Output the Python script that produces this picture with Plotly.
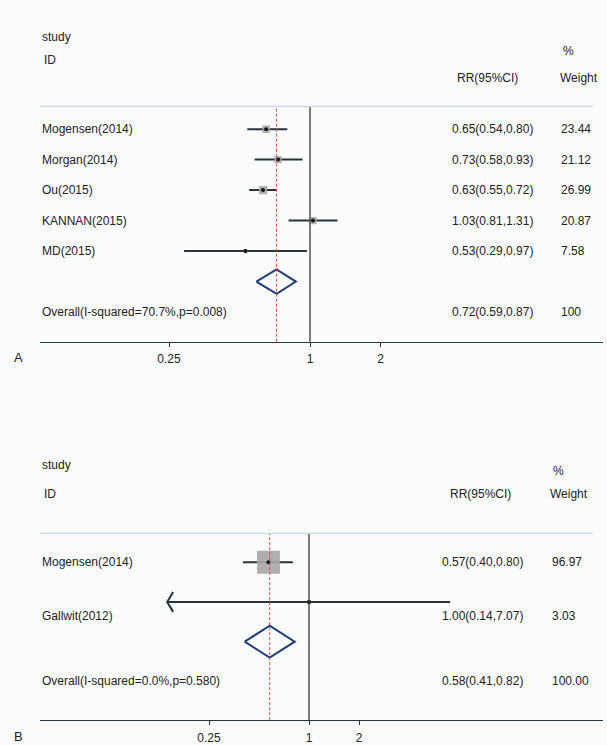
import math
import plotly.graph_objects as go

W, H = 607, 745

# ---- Panel A ----
a_studies = ["Mogensen(2014)", "Morgan(2014)", "Ou(2015)", "KANNAN(2015)", "MD(2015)"]
a_rr = [0.65, 0.73, 0.63, 1.03, 0.53]
a_lo = [0.54, 0.58, 0.55, 0.81, 0.29]
a_hi = [0.80, 0.93, 0.72, 1.31, 0.97]
a_weight = [23.44, 21.12, 26.99, 20.87, 7.58]
a_overall = [0.72, 0.59, 0.87]
a_overall_label = "Overall(I-squared=70.7%,p=0.008)"
a_overall_weight = "100"

# ---- Panel B ----
b_studies = ["Mogensen(2014)", "Gallwit(2012)"]
b_rr = [0.57, 1.00]
b_lo = [0.40, 0.14]
b_hi = [0.80, 7.07]
b_weight = [96.97, 3.03]
b_overall = [0.58, 0.41, 0.82]
b_overall_label = "Overall(I-squared=0.0%,p=0.580)"
b_overall_weight = "100.00"

tick_vals = [0.25, 1, 2]
tick_text = ["0.25", "1", "2"]

FONT = "Liberation Sans, Arial, Helvetica, sans-serif"
TXT = "#222222"
CI_COL = "#28343c"
DIAMOND_COL = "#1e3c78"
NULL_COL = "#3a3a3a"
DASH_COL = "#d44a44"
RULE_COL = "#c9d6e0"
AXIS_COL = "#2a3640"
BG = "#fbfcfd"


def py(px):
    """Pixel row (from top) to paper fraction."""
    return 1 - px / H


def pxx(px):
    return px / W


fig = go.Figure()
annotations = []
shapes = []

panels = [
    dict(key="", studies=a_studies, rr=a_rr, lo=a_lo, hi=a_hi, weight=a_weight,
         overall=a_overall, overall_label=a_overall_label, overall_weight=a_overall_weight,
         letter="A",
         rule_px=107, axis_px=344, first_row_px=130, row_step=30.7,
         one_px=310, px_per_doubling=70.5, sq_scale=1.55,
         rr_x=450, w_x=559,
         head=dict(study=(40, 37), ID=(42, 60), pct=(568, 51), rr=(455, 79), w=(558, 79)),
         label_shift={}),
    dict(key="2", studies=b_studies, rr=b_rr, lo=b_lo, hi=b_hi, weight=b_weight,
         overall=b_overall, overall_label=b_overall_label, overall_weight=b_overall_weight,
         letter="B",
         rule_px=537, axis_px=725, first_row_px=566, row_step=40,
         one_px=309, px_per_doubling=50, sq_scale=2.33,
         rr_x=440, w_x=550,
         head=dict(study=(40, 468), ID=(42, 497), pct=(558, 474), rr=(448, 497), w=(548, 497)),
         label_shift={1: -14}),
]

AX_LEFT, AX_RIGHT = 40, 603

for p in panels:
    k = p["key"]
    xa, ya = "x" + k, "y" + k
    n = len(p["studies"])
    rows = list(range(1, n + 1))
    diamond_row = n + 1
    overall_row = n + 2

    # log axis range so that RR=1 sits at one_px with the given spacing per doubling
    ppd = p["px_per_doubling"] / math.log10(2)
    x_range = [(AX_LEFT - p["one_px"]) / ppd, (AX_RIGHT - p["one_px"]) / ppd]
    y_top = 1 - (p["first_row_px"] - p["rule_px"]) / p["row_step"]
    y_bot = y_top + (p["axis_px"] - p["rule_px"]) / p["row_step"]

    # confidence intervals
    cx, cy = [], []
    for r, lo, hi in zip(rows, p["lo"], p["hi"]):
        cx += [lo, hi, None]
        cy += [r, r, None]
    fig.add_trace(go.Scatter(x=cx, y=cy, xaxis=xa, yaxis=ya, mode="lines",
                             line=dict(color=CI_COL, width=2), hoverinfo="skip"))

    # arrow heads where the interval runs past the lowest labelled tick
    arm = 2 ** (6 / p["px_per_doubling"])
    half = 10 / p["row_step"]
    for r, lo in zip(rows, p["lo"]):
        if lo < min(tick_vals):
            fig.add_trace(go.Scatter(x=[lo * arm, lo, lo * arm], y=[r - half, r, r + half],
                                     xaxis=xa, yaxis=ya, mode="lines",
                                     line=dict(color=CI_COL, width=2), hoverinfo="skip"))

    # weight squares and point estimates
    fig.add_trace(go.Scatter(x=p["rr"], y=rows, xaxis=xa, yaxis=ya, mode="markers",
                             marker=dict(symbol="square", color="#a6a6a6", opacity=0.9,
                                         size=[p["sq_scale"] * math.sqrt(w) for w in p["weight"]],
                                         line=dict(width=0)),
                             hoverinfo="skip"))
    fig.add_trace(go.Scatter(x=p["rr"], y=rows, xaxis=xa, yaxis=ya, mode="markers",
                             marker=dict(symbol="circle", color="#111111", size=4),
                             hoverinfo="skip"))

    # pooled estimate diamond
    est, olo, ohi = p["overall"]
    dh = 0.4
    fig.add_trace(go.Scatter(x=[olo, est, ohi, est, olo],
                             y=[diamond_row, diamond_row - dh, diamond_row, diamond_row + dh, diamond_row],
                             xaxis=xa, yaxis=ya, mode="lines",
                             line=dict(color=DIAMOND_COL, width=2), hoverinfo="skip"))

    # null line and pooled estimate line
    shapes.append(dict(type="line", xref=xa, yref=ya + " domain", x0=1, x1=1, y0=0, y1=1,
                       line=dict(color=NULL_COL, width=1.3)))
    shapes.append(dict(type="line", xref=xa, yref=ya + " domain", x0=est, x1=est, y0=0, y1=1,
                       line=dict(color=DASH_COL, width=1, dash="3px,2px")))
    # header rule
    shapes.append(dict(type="line", xref="paper", yref="paper",
                       x0=pxx(40), x1=pxx(593), y0=py(p["rule_px"]), y1=py(p["rule_px"]),
                       line=dict(color=RULE_COL, width=1.2)))

    # study rows text
    for i, (name, rr, lo, hi, w) in enumerate(zip(p["studies"], p["rr"], p["lo"], p["hi"], p["weight"])):
        shift = p["label_shift"].get(i, 0)
        for x, t in [(40, name), (p["rr_x"], f"{rr:.2f}({lo:.2f},{hi:.2f})"), (p["w_x"], f"{w:.2f}")]:
            annotations.append(dict(x=pxx(x), y=rows[i], xref="paper", yref=ya, text=t,
                                    showarrow=False, xanchor="left", yanchor="middle",
                                    yshift=shift, font=dict(size=12, color=TXT, family=FONT)))
    for x, t in [(40, p["overall_label"]), (p["rr_x"], f"{est:.2f}({olo:.2f},{ohi:.2f})"),
                 (p["w_x"], p["overall_weight"])]:
        annotations.append(dict(x=pxx(x), y=overall_row, xref="paper", yref=ya, text=t,
                                showarrow=False, xanchor="left", yanchor="middle",
                                font=dict(size=12, color=TXT, family=FONT)))

    # column headers
    hd = p["head"]
    for key, t, anchor in [("study", "study", "left"), ("ID", "ID", "left"), ("pct", "%", "center"),
                           ("rr", "RR(95%CI)", "left"), ("w", "Weight", "left")]:
        hx, hy = hd[key]
        annotations.append(dict(x=pxx(hx), y=py(hy), xref="paper", yref="paper", text=t,
                                showarrow=False, xanchor=anchor, yanchor="middle",
                                font=dict(size=12, color=TXT, family=FONT)))
    annotations.append(dict(x=pxx(12), y=py(p["axis_px"] + 16), xref="paper", yref="paper",
                            text=p["letter"], showarrow=False, xanchor="left", yanchor="middle",
                            font=dict(size=13, color=TXT, family=FONT)))

    xaxis = dict(type="log", range=x_range, domain=[pxx(AX_LEFT), pxx(AX_RIGHT)], anchor=ya,
                 showgrid=False, zeroline=False, showline=True, linecolor=AXIS_COL, linewidth=1.3,
                 ticks="outside", ticklen=4, tickcolor=AXIS_COL, tickwidth=1,
                 tickvals=tick_vals, ticktext=tick_text, ticklabelstandoff=2,
                 tickfont=dict(size=12, color=TXT, family=FONT), fixedrange=True)
    yaxis = dict(range=[y_bot, y_top], domain=[py(p["axis_px"]), py(p["rule_px"])], anchor=xa,
                 visible=False, showgrid=False, zeroline=False, fixedrange=True)
    fig.update_layout({("xaxis" + k): xaxis, ("yaxis" + k): yaxis})

fig.update_layout(width=W, height=H, margin=dict(l=0, r=0, t=0, b=0),
                  paper_bgcolor=BG, plot_bgcolor=BG, showlegend=False,
                  annotations=annotations, shapes=shapes,
                  font=dict(family=FONT, size=12, color=TXT))

fig.write_html("out.html")
